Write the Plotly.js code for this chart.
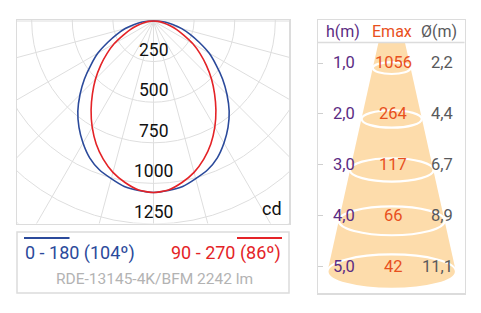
<!DOCTYPE html>
<html><head><meta charset="utf-8">
<script src="https://cdn.plot.ly/plotly-3.0.1.min.js"></script>
<style>html,body{margin:0;padding:0;background:#fff}#chart{width:481px;height:313px}</style>
</head><body><div id="chart"></div>
<script>
// ---- data: luminous intensity distribution (cd), symmetric planes ----
const gammaDeg = [0,5,10,15,20,25,30,35,40,45,50,55,60,65,70,75,80,85,90];
const intensityC0_180 = [1056,1048,1035,1005,975,930,868,800,725,640,555,470,395,310,240,180,120,70,0];
const intensityC90_270 = [1056,1045,1010,965,905,835,755,670,585,505,425,350,280,205,150,100,60,28,0];
const radialTickValues = [250,500,750,1000,1250];
const gridCircleValues = [250,500,750,1000,1250,1500];
const spokeAngles = [-90,-75,-60,-45,-30,-15,0,15,30,45,60,75,90];
const legendC0 = "0 - 180 (104º)";
const legendC90 = "90 - 270 (86º)";
const lampName = "RDE-13145-4K/BFM 2242 lm";
const unitLabel = "cd";
// ---- table ----
const headers = ["h(m)", "Emax", "Ø(m)"];
const heights = [1, 2, 3, 4, 5];
const heightLabels = ["1,0", "2,0", "3,0", "4,0", "5,0"];
const emaxValues = [1056, 264, 117, 66, 42];
const diameters = [2.2, 4.4, 6.7, 8.9, 11.1];
const diameterLabels = ["2,2", "4,4", "6,7", "8,9", "11,1"];

const W = 481, H = 313;
const px = x => x / W, py = y => 1 - y / H;
const BLUE = '#2b4a9b', RED = '#e42327', GRID = '#dedede', BORDER = '#dcdcdc';
const PURPLE = '#5b2c83', ORANGE = '#e8501d', DGRAY = '#58595b', CONE = '#fddcab';
const FONT = 'Roboto, sans-serif';
const s = 203 / 1250;

function polarTrace(vals, color) {
  const ang = [], r = [];
  for (let i = gammaDeg.length - 1; i > 0; i--) { ang.push(-gammaDeg[i]); r.push(vals[i]); }
  for (let i = 0; i < gammaDeg.length; i++) { ang.push(gammaDeg[i]); r.push(vals[i]); }
  const x = ang.map((a, i) => r[i] * Math.sin(a * Math.PI / 180));
  const y = ang.map((a, i) => -r[i] * Math.cos(a * Math.PI / 180));
  return {type: 'scatter', mode: 'lines', x, y, xaxis: 'x', yaxis: 'y',
    line: {color, width: 1.6, shape: 'spline', smoothing: 0.6}, hoverinfo: 'skip'};
}

const shapes = [];
gridCircleValues.forEach(v => shapes.push({type: 'circle', xref: 'x', yref: 'y', x0: -v, x1: v, y0: -v, y1: v,
  line: {color: GRID, width: 1}, layer: 'below'}));
spokeAngles.forEach(a => { const R = 1700, t = a * Math.PI / 180;
  shapes.push({type: 'line', xref: 'x', yref: 'y', x0: 0, y0: 0, x1: R * Math.sin(t), y1: -R * Math.cos(t),
    line: {color: GRID, width: 1}, layer: 'below'}); });

// legend box + lines
shapes.push({type: 'rect', xref: 'paper', yref: 'paper', x0: px(17), x1: px(289), y0: py(232), y1: py(293),
  line: {color: BORDER, width: 1.5}});
shapes.push({type: 'line', xref: 'paper', yref: 'paper', x0: px(24), x1: px(69.5), y0: py(238), y1: py(238), line: {color: BLUE, width: 2}});
shapes.push({type: 'line', xref: 'paper', yref: 'paper', x0: px(237), x1: px(282), y0: py(238), y1: py(238), line: {color: RED, width: 2}});
// table header separator
shapes.push({type: 'line', xref: 'paper', yref: 'paper', x0: px(318), x1: px(464.5), y0: py(42.5), y1: py(42.5), line: {color: BORDER, width: 1.5}});

// cone geometry from diameters
const PXU = 10.2, ROWPX = 50.9;
const hw = diameters.map(d => d / 2 + 0.75);
const yc = heights.map(h => h + 0.1);
const ry = hw.map(w => (0.25 * w * PXU + 1.2) / ROWPX);
const yTop = 1 - (63 - 42.5) / ROWPX;
const hwTop = hw[0] + (hw[1] - hw[0]) * (yTop - yc[0]) / (yc[1] - yc[0]);
const coneX = [-hwTop].concat(hw.map(w => -w)).concat(hw.slice().reverse()).concat([hwTop]);
const coneY = [yTop].concat(yc).concat(yc.slice().reverse()).concat([yTop]);
hw.forEach((w, i) => shapes.push({type: 'circle', xref: 'x2', yref: 'y2', x0: -w, x1: w, y0: yc[i] - ry[i], y1: yc[i] + ry[i],
  line: {color: '#ffffff', width: 2.2}, fillcolor: i === hw.length - 1 ? CONE : 'rgba(0,0,0,0)'}));

const annotations = [];
const LBL_OFF = 40;
radialTickValues.forEach(v => annotations.push({xref: 'x', yref: 'y', x: 0, y: -v + LBL_OFF, yshift: -LBL_OFF * s,
  text: String(v), showarrow: false, xanchor: 'center', yanchor: 'bottom', font: {family: FONT, size: 17.5, color: '#111'}}));
annotations.push({xref: 'paper', yref: 'paper', x: px(284), y: py(221), text: unitLabel, showarrow: false,
  xanchor: 'right', yanchor: 'bottom', font: {family: FONT, size: 18, color: '#111'}});
annotations.push({xref: 'paper', yref: 'paper', x: px(23), y: py(253), text: legendC0, showarrow: false,
  xanchor: 'left', yanchor: 'middle', font: {family: FONT, size: 18, color: BLUE}});
annotations.push({xref: 'paper', yref: 'paper', x: px(283), y: py(253), text: legendC90, showarrow: false,
  xanchor: 'right', yanchor: 'middle', font: {family: FONT, size: 18, color: RED}});
annotations.push({xref: 'paper', yref: 'paper', x: px(154), y: py(278.5), text: lampName, showarrow: false,
  xanchor: 'center', yanchor: 'middle', font: {family: FONT, size: 15.5, color: '#b3b3b3'}});
// table header
annotations.push({xref: 'paper', yref: 'paper', x: px(343), y: py(31.5), text: headers[0], showarrow: false, xanchor: 'center', yanchor: 'middle', font: {family: FONT, size: 16, color: PURPLE}});
annotations.push({xref: 'paper', yref: 'paper', x: px(391.7), y: py(31.5), text: headers[1], showarrow: false, xanchor: 'center', yanchor: 'middle', font: {family: FONT, size: 16, color: ORANGE}});
annotations.push({xref: 'paper', yref: 'paper', x: px(459), y: py(31.5), text: headers[2], showarrow: false, xanchor: 'right', yanchor: 'middle', font: {family: FONT, size: 16, color: DGRAY}});
heights.forEach((h, i) => {
  annotations.push({xref: 'paper', yref: 'y2', x: px(343.7), y: h, text: heightLabels[i], showarrow: false, xanchor: 'center', yanchor: 'middle', font: {family: FONT, size: 16.5, color: PURPLE}});
  annotations.push({xref: 'paper', yref: 'y2', x: px(393), y: h, text: String(emaxValues[i]), showarrow: false, xanchor: 'center', yanchor: 'middle', font: {family: FONT, size: 16.5, color: ORANGE}});
  annotations.push({xref: 'paper', yref: 'y2', x: px(455), y: h, text: diameterLabels[i], showarrow: false, xanchor: 'right', yanchor: 'middle', font: {family: FONT, size: 16.5, color: DGRAY}});
});

const data = [
  polarTrace(intensityC0_180, BLUE),
  polarTrace(intensityC90_270, RED),
  {type: 'scatter', mode: 'lines', x: coneX, y: coneY, xaxis: 'x2', yaxis: 'y2', fill: 'toself', fillcolor: CONE,
   line: {width: 0, color: CONE}, hoverinfo: 'skip'}
];
const noAx = {showgrid: false, zeroline: false, showticklabels: false, ticks: '', showline: true, mirror: true, linecolor: BORDER, linewidth: 1.5, fixedrange: true};
const layout = {
  width: W, height: H, margin: {l: 0, r: 0, t: 0, b: 0}, paper_bgcolor: '#fff', plot_bgcolor: '#fff', showlegend: false,
  xaxis: Object.assign({}, noAx, {domain: [px(17), px(289)], range: [-(153.5 - 17) / s, (289 - 153.5) / s]}),
  yaxis: Object.assign({}, noAx, {domain: [py(223.5), py(20)], range: [-(223.5 - 21) / s, (21 - 20) / s]}),
  xaxis2: Object.assign({}, noAx, {anchor: 'y2', domain: [px(318), px(464.5)], range: [-(391.7 - 318) / PXU, (464.5 - 391.7) / PXU]}),
  yaxis2: Object.assign({}, noAx, {anchor: 'x2', domain: [py(293), py(20)], range: [1 + (293 - 63) / ROWPX, 1 - (63 - 20) / ROWPX],
    tickvals: heights, ticks: 'inside', ticklen: 5, tickcolor: '#cfcfcf', tickwidth: 1, mirror: true}),
  shapes, annotations
};
Plotly.newPlot('chart', data, layout, {staticPlot: true, displayModeBar: false});
</script></body></html>
